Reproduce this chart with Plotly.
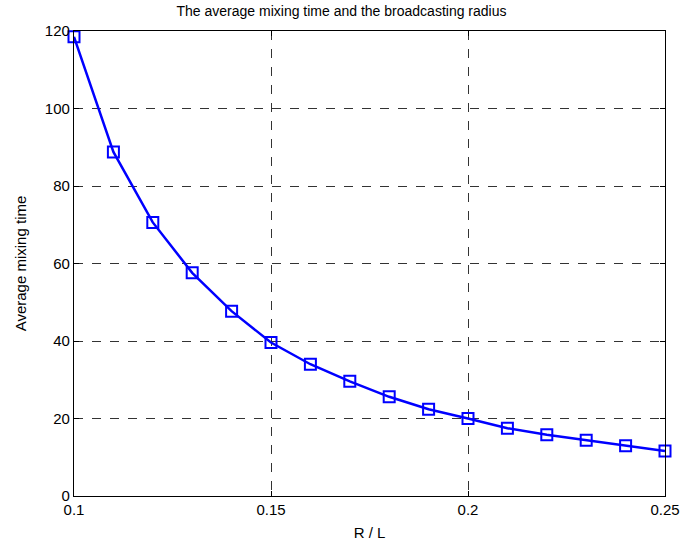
import plotly.graph_objects as go

ratio = [0.10, 0.11, 0.12, 0.13, 0.14, 0.15, 0.16, 0.17, 0.18, 0.19,
         0.20, 0.21, 0.22, 0.23, 0.24, 0.25]
mixing_time = [118.5, 88.8, 70.6, 57.6, 47.7, 39.6, 34.0, 29.6, 25.6, 22.4,
               20.0, 17.5, 15.8, 14.4, 13.0, 11.6]
x_ticks = [0.1, 0.15, 0.2, 0.25]
x_tick_text = ["0.1", "0.15", "0.2", "0.25"]
y_ticks = [0, 20, 40, 60, 80, 100, 120]

FONT = "Liberation Sans, Arial"

fig = go.Figure()
fig.add_trace(go.Scatter(
    x=ratio, y=mixing_time, mode="lines+markers",
    line=dict(color="#0000ff", width=2.5),
    marker=dict(symbol="square-open", size=11, color="#0000ff",
                line=dict(width=2, color="#0000ff")),
    cliponaxis=False, showlegend=False,
))

axis_common = dict(
    showline=True, linecolor="black", linewidth=1.2, mirror="ticks",
    ticks="inside", ticklen=5, tickcolor="black",
    showgrid=True, gridcolor="#333333", griddash="dash", gridwidth=1,
    zeroline=False, automargin=False,
    tickfont=dict(family=FONT, size=15, color="black"),
)

fig.update_layout(
    width=683, height=546,
    margin=dict(l=74, r=18, t=31, b=50),
    paper_bgcolor="white", plot_bgcolor="white",
    title=dict(text="The average mixing time and the broadcasting radius",
               x=0.5, xanchor="center", y=0.988, yanchor="top",
               font=dict(family=FONT, size=14, color="black")),
    xaxis=dict(range=[0.1, 0.25], tickvals=x_ticks, ticktext=x_tick_text,
               title=dict(text="R / L", standoff=10,
                          font=dict(family=FONT, size=15, color="black")),
               **axis_common),
    yaxis=dict(range=[0, 120], tickvals=y_ticks,
               title=dict(text="Average mixing time", standoff=14,
                          font=dict(family=FONT, size=15, color="black")),
               **axis_common),
)

fig.write_html("out.html")
